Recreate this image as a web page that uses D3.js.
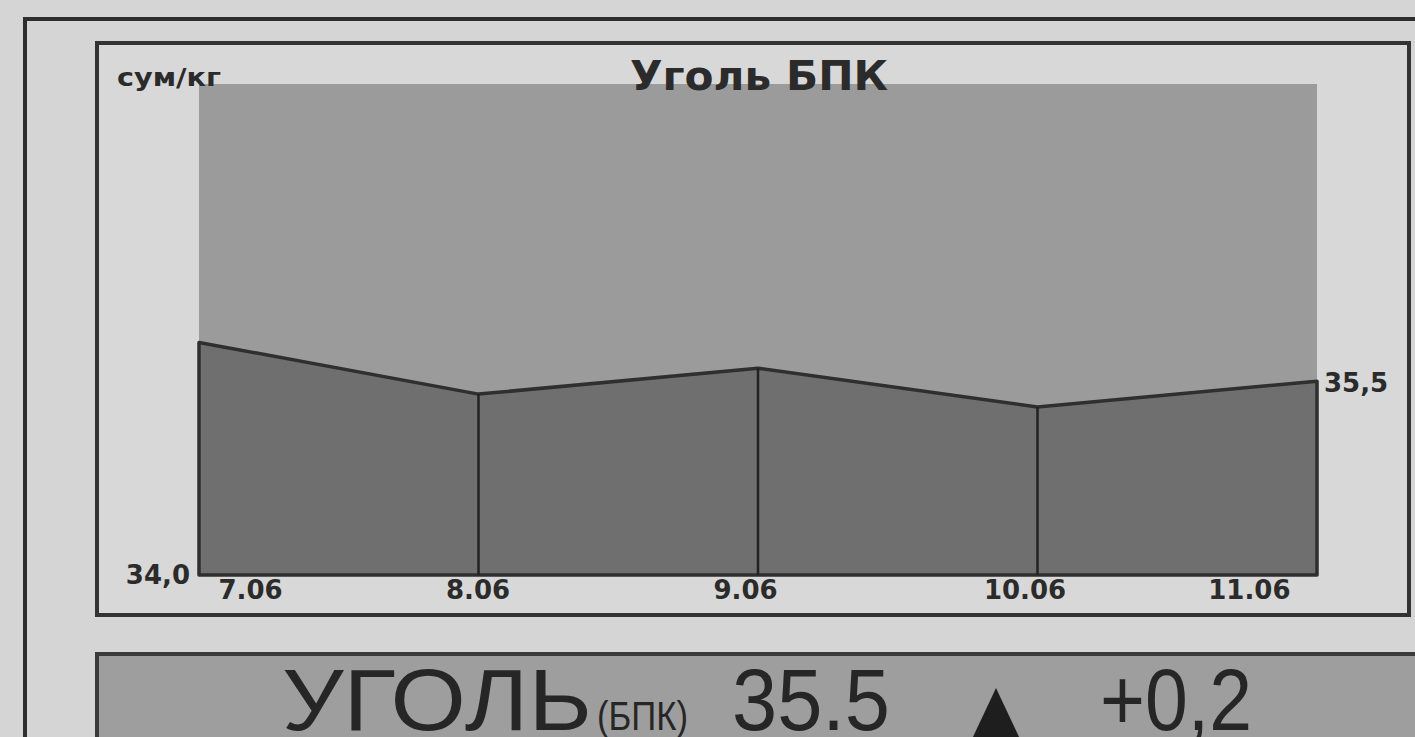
<!DOCTYPE html>
<html lang="ru">
<head>
  <meta charset="utf-8">
  <title>Уголь БПК</title>
  <script src="https://d3js.org/d3.v7.min.js"></script>
  <style>
    body { margin: 0; background: #d5d5d5; }
    svg { display: block; }
    .lbl { font-family: "DejaVu Sans", sans-serif; font-weight: bold; fill: #2b2b2b; }
    .big { font-family: "Liberation Sans", Arial, sans-serif; fill: #262626; }
  </style>
</head>
<body>
<script>
  // data
  var dates = ["7.06", "8.06", "9.06", "10.06", "11.06"];
  var prices = [35.8, 35.4, 35.6, 35.3, 35.5];
  var yDomain = [34, 37.8];
  var lastChange = "+0,2";

  var W = 1415, H = 737;
  var svg = d3.select("body").append("svg").attr("width", W).attr("height", H);

  // frames
  svg.append("rect").attr("x", 0).attr("y", 0).attr("width", W).attr("height", H).attr("fill", "#d5d5d5");
  svg.append("path").attr("d", "M25," + H + "V19H" + W)
    .attr("fill", "none").attr("stroke", "#2e2e2e").attr("stroke-width", 4);
  svg.append("rect").attr("x", 97).attr("y", 43).attr("width", 1312).attr("height", 572)
    .attr("fill", "#d8d8d8").attr("stroke", "#333").attr("stroke-width", 4);

  var x = d3.scalePoint().domain(dates).range([199, 1317]);
  var y = d3.scaleLinear().domain(yDomain).range([575, 84]);

  var data = dates.map(function (d, i) { return { d: d, v: prices[i] }; });

  // upper plot area
  svg.append("rect")
    .attr("x", x(dates[0])).attr("y", y(yDomain[1]))
    .attr("width", x(dates[dates.length - 1]) - x(dates[0]))
    .attr("height", y(yDomain[0]) - y(yDomain[1]))
    .attr("fill", "#9b9b9b");

  var area = d3.area()
    .x(function (d) { return x(d.d); })
    .y0(y(yDomain[0]))
    .y1(function (d) { return y(d.v); });

  svg.append("path").datum(data)
    .attr("d", area)
    .attr("fill", "#6f6f6f")
    .attr("stroke", "#2f2f2f")
    .attr("stroke-width", 3.5)
    .attr("stroke-linejoin", "round");

  // vertical date lines
  svg.selectAll(".vline").data(data.slice(1, -1)).enter().append("line")
    .attr("class", "vline")
    .attr("x1", function (d) { return x(d.d); })
    .attr("x2", function (d) { return x(d.d); })
    .attr("y1", y(yDomain[0]))
    .attr("y2", function (d) { return y(d.v); })
    .attr("stroke", "#222").attr("stroke-width", 2.5);

  // x axis labels
  var n = dates.length;
  var xAxis = svg.append("g")
    .attr("transform", "translate(0," + (y(yDomain[0]) + 2) + ")")
    .call(d3.axisBottom(x).tickSize(0).tickPadding(4));
  xAxis.select(".domain").remove();
  xAxis.selectAll("text")
    .attr("class", "lbl")
    .style("font-size", "26px")
    .attr("text-anchor", function (d, i) { return i === 0 ? "start" : (i === n - 1 ? "end" : "middle"); })
    .attr("dx", function (d, i) { return i === 0 ? 19 : (i === n - 1 ? -27 : (i === 1 ? -1 : -13)); });

  // value labels
  var fmt = function (v) { return v.toFixed(1).replace(".", ","); };
  svg.append("text").attr("class", "lbl")
    .attr("x", x(dates[0]) - 9).attr("y", y(yDomain[0]) + 9)
    .attr("text-anchor", "end").style("font-size", "26px")
    .text(fmt(yDomain[0]));
  svg.append("text").attr("class", "lbl")
    .attr("x", x(dates[n - 1]) + 7).attr("y", y(prices[n - 1]) + 11)
    .attr("text-anchor", "start").style("font-size", "26px")
    .text(fmt(prices[n - 1]));

  svg.append("text").attr("class", "lbl")
    .attr("x", 117).attr("y", 86).style("font-size", "24px")
    .attr("textLength", 104).attr("lengthAdjust", "spacingAndGlyphs")
    .text("сум/кг");
  svg.append("text").attr("class", "lbl")
    .attr("x", 630).attr("y", 90).style("font-size", "40px")
    .attr("textLength", 258).attr("lengthAdjust", "spacingAndGlyphs")
    .text("Уголь БПК");

  // bottom banner
  svg.append("rect").attr("x", 97).attr("y", 654).attr("width", 1330).attr("height", 120)
    .attr("fill", "#9e9e9e").attr("stroke", "#3a3a3a").attr("stroke-width", 4);

  var base = 730;
  function bigText(txt, x0, len, size) {
    svg.append("text").attr("class", "big")
      .attr("x", x0).attr("y", base)
      .style("font-size", size + "px")
      .attr("textLength", len).attr("lengthAdjust", "spacingAndGlyphs")
      .text(txt);
  }
  bigText("УГОЛЬ", 282, 310, 88);
  bigText("(БПК)", 597, 91, 40);
  bigText(String(prices[n - 1]), 732, 158, 88);
  bigText(lastChange, 1100, 152, 88);

  // up arrow
  var tri = d3.line()([[996, 688], [1020, H + 2], [972, H + 2]]) + "Z";
  svg.append("path").attr("d", tri).attr("fill", "#1e1e1e");
</script>
</body>
</html>
